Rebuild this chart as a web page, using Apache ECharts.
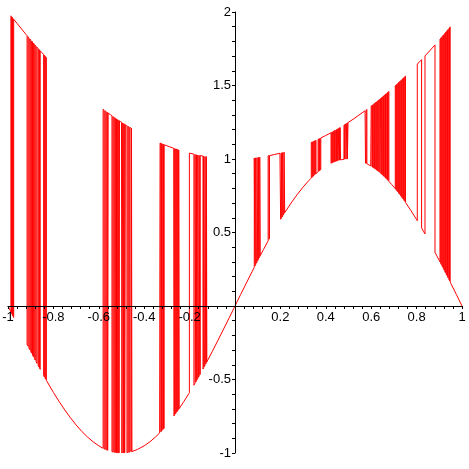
<!DOCTYPE html>
<html>
<head>
<meta charset="utf-8">
<script src="https://cdn.jsdelivr.net/npm/echarts@6/dist/echarts.min.js"></script>
<style>html,body{margin:0;padding:0;background:#fff}#c{width:469px;height:469px}</style>
</head>
<body>
<div id="c"></div>
<script>
// Tick values
const xTicks = [-1, -0.8, -0.6, -0.4, -0.2, 0.2, 0.4, 0.6, 0.8, 1];
const yTicks = [-1, -0.5, 0.5, 1, 1.5, 2];

// Curve points [x, y], left to right
const segLeftCluster = [
  [-1,0],[-0.99,-0.031],
  [-0.987,-0.041],[-0.987,1.974],[-0.985,1.970],[-0.985,-0.047],[-0.983,-0.053],[-0.983,1.966],
  [-0.981,1.962],[-0.981,-0.060],[-0.979,-0.066],[-0.979,1.958],[-0.977,1.955],[-0.977,-0.072],
  [-0.975,-0.078],[-0.975,1.951],
  [-0.96,1.922],[-0.94,1.884],[-0.92,1.846],
  [-0.916,1.839],[-0.916,-0.261],[-0.912,-0.273],[-0.912,1.832],[-0.908,1.824],[-0.908,-0.285],
  [-0.904,-0.297],[-0.904,1.817],[-0.900,1.810],[-0.900,-0.309],[-0.896,-0.321],[-0.896,1.803],
  [-0.892,1.796],[-0.892,-0.333],[-0.888,-0.345],[-0.888,1.789],[-0.884,1.781],[-0.884,-0.356],
  [-0.880,-0.368],[-0.880,1.774],[-0.876,1.767],[-0.876,-0.380],[-0.872,-0.391],[-0.872,1.760],
  [-0.867,1.752],[-0.867,-0.406],[-0.864,-0.414],[-0.864,1.746],[-0.861,1.741],[-0.861,-0.423],
  [-0.858,-0.431],[-0.858,1.736],
  [-0.85,1.723],
  [-0.843,1.711],[-0.843,-0.474],[-0.840,-0.482],[-0.840,1.706],[-0.837,1.701],[-0.837,-0.490],
  [-0.834,-0.498],[-0.834,1.696],[-0.831,1.691],[-0.831,-0.506]
];
const segLowerLeft = [
  [-0.80,-0.588],[-0.775,-0.649],[-0.75,-0.707],[-0.725,-0.760],[-0.70,-0.809],[-0.675,-0.853],
  [-0.65,-0.891],[-0.625,-0.924],[-0.60,-0.951],[-0.585,-0.965]
];
const segMidCluster = [
  [-0.581,-0.968],[-0.581,1.338],[-0.577,1.333],[-0.577,-0.971],[-0.573,-0.974],[-0.573,1.328],
  [-0.569,1.324],[-0.569,-0.977],[-0.565,-0.979],[-0.565,1.319],[-0.561,1.315],[-0.561,-0.982],
  [-0.559,-0.983],[-0.559,1.312],
  [-0.55,1.303],
  [-0.542,1.294],[-0.542,-0.991],[-0.538,-0.993],[-0.538,1.289],[-0.534,1.285],[-0.534,-0.994],
  [-0.530,-0.996],[-0.530,1.281],[-0.526,1.277],[-0.526,-0.997],[-0.522,-0.998],[-0.522,1.272],
  [-0.518,1.268],[-0.518,-0.998],[-0.514,-0.999],[-0.514,1.264],[-0.511,1.261],[-0.511,-0.999],
  [-0.509,-1.000],[-0.509,1.259],
  [-0.50,1.25],
  [-0.498,1.248],[-0.498,-1.000],[-0.495,-1.000],[-0.495,1.245],[-0.492,1.242],[-0.492,-1.000],
  [-0.489,-0.999],[-0.489,1.239],[-0.486,1.236],[-0.486,-0.999],[-0.483,-0.999],[-0.483,1.233],
  [-0.479,1.229],
  [-0.476,1.227],[-0.476,-0.997],[-0.472,-0.996],[-0.472,1.223],[-0.468,1.219],[-0.468,-0.995],
  [-0.464,-0.994],[-0.464,1.215],
  [-0.458,1.210],[-0.458,-0.991],[-0.456,-0.990],[-0.456,1.208],[-0.454,1.206],[-0.454,-0.990]
];
const segLowerMid = [
  [-0.43,-0.976],[-0.40,-0.951],[-0.375,-0.924],[-0.35,-0.891],[-0.332,-0.864]
];
const segRightOfMid = [
  [-0.330,-0.861],[-0.330,1.109],[-0.327,1.107],[-0.327,-0.856],[-0.324,-0.851],[-0.324,1.105],
  [-0.321,1.103],[-0.321,-0.846],[-0.318,-0.841],[-0.318,1.101],[-0.315,1.099],[-0.315,-0.836],
  [-0.312,-0.831],[-0.312,1.097],
  [-0.29,1.084],[-0.27,1.073],
  [-0.269,1.072],[-0.269,-0.748],[-0.266,-0.742],[-0.266,1.071],[-0.263,1.069],[-0.263,-0.735],
  [-0.260,-0.729],[-0.260,1.068],[-0.257,1.066],[-0.257,-0.722],[-0.254,-0.716],[-0.254,1.065],
  [-0.251,1.063],[-0.251,-0.709],[-0.248,-0.703],[-0.248,1.062],[-0.246,1.061],[-0.246,-0.698],
  [-0.225,-0.649],[-0.203,-0.595],
  [-0.201,-0.590],[-0.201,1.040],
  [-0.181,1.033],[-0.181,-0.539],[-0.178,-0.531],
  [-0.176,-0.525],[-0.176,1.031],[-0.173,1.030],[-0.173,-0.517],[-0.170,-0.509],[-0.170,1.029],
  [-0.167,1.028],[-0.167,-0.501],[-0.164,-0.493],[-0.164,1.027],[-0.161,1.026],[-0.161,-0.485],
  [-0.158,-0.476],[-0.158,1.025],[-0.155,1.024],[-0.155,-0.468],[-0.153,-0.462],[-0.153,1.023],
  [-0.145,1.021],
  [-0.141,1.020],[-0.141,-0.429],[-0.138,-0.420],[-0.138,1.019],[-0.135,1.018],[-0.135,-0.412],
  [-0.132,-0.403],[-0.132,1.017],[-0.129,1.017],[-0.129,-0.394],[-0.126,-0.386],[-0.126,1.016],
  [-0.124,1.015],[-0.124,-0.380]
];
const segLowerCentre = [
  [-0.10,-0.309],[-0.075,-0.233],[-0.05,-0.156],[-0.025,-0.079],[0,0],[0.025,0.079],[0.05,0.156],
  [0.075,0.233],[0.083,0.258]
];
const segRightLow = [
  [0.085,0.264],[0.085,1.007],[0.088,1.008],[0.088,0.273],[0.091,0.282],[0.091,1.008],
  [0.094,1.009],[0.094,0.291],[0.097,0.300],[0.097,1.009],[0.100,1.010],[0.100,0.309],
  [0.103,0.318],[0.103,1.011],[0.106,1.011],[0.106,0.327],[0.109,0.336],[0.109,1.012],
  [0.111,1.012],[0.111,0.342],
  [0.125,0.383],[0.146,0.443],[0.146,1.021],[0.150,1.023],[0.150,0.454],[0.152,0.460],[0.152,1.023],
  [0.175,1.031],[0.198,1.039],
  [0.201,1.040],[0.201,0.590],[0.204,0.598],[0.204,1.042],[0.207,1.043],[0.207,0.605],
  [0.210,0.613],[0.210,1.044],[0.213,1.045],[0.213,0.620],[0.216,0.628],[0.216,1.047],
  [0.219,1.048],[0.219,0.635],
  [0.25,0.707],[0.275,0.760],[0.30,0.809],[0.325,0.853],[0.333,0.866]
];
const segRightMid = [
  [0.336,0.870],[0.336,1.113],[0.339,1.115],[0.339,0.875],[0.342,0.879],[0.342,1.117],
  [0.345,1.119],[0.345,0.884],[0.348,0.888],[0.348,1.121],[0.351,1.123],[0.351,0.893],
  [0.354,0.897],[0.354,1.125],[0.357,1.127],[0.357,0.901],
  [0.362,0.907],
  [0.366,0.913],[0.366,1.134],[0.369,1.136],[0.369,0.917],[0.372,0.920],[0.372,1.138],
  [0.375,1.141],[0.375,0.924],[0.378,0.928],[0.378,1.143],
  [0.40,1.16],[0.42,1.176],
  [0.423,1.179],[0.423,0.971],[0.426,0.973],[0.426,1.181],[0.429,1.184],[0.429,0.975],
  [0.432,0.977],[0.432,1.187],[0.435,1.189],[0.435,0.979],[0.438,0.981],[0.438,1.192],
  [0.441,1.194],[0.441,0.983],[0.444,0.985],[0.444,1.197],[0.447,1.200],[0.447,0.986],
  [0.451,0.988],[0.451,1.203],[0.454,1.206],[0.454,0.990],[0.457,0.991],[0.457,1.209],
  [0.460,1.212],[0.460,0.992],[0.463,0.993],[0.463,1.214],[0.465,1.216],[0.465,0.994],
  [0.472,0.996],
  [0.480,0.998],[0.480,1.230],[0.483,1.233],[0.483,0.999],[0.486,0.999],[0.486,1.236],
  [0.489,1.239],[0.489,0.999],[0.492,1.000],[0.492,1.242],[0.495,1.245],[0.495,1.000],
  [0.498,1.000],[0.498,1.248],
  [0.52,1.270],[0.54,1.292],[0.56,1.314],[0.573,1.328],
  [0.575,1.331],[0.575,0.972],[0.578,0.970],[0.578,1.334],[0.581,1.338],[0.581,0.968],
  [0.59,0.960],[0.598,0.953]
];
const segRightHigh = [
  [0.600,0.951],[0.600,1.360],[0.603,1.364],[0.603,0.948],[0.606,0.945],[0.606,1.367],
  [0.609,1.371],[0.609,0.942],[0.612,0.939],[0.612,1.375],[0.615,1.378],[0.615,0.935],
  [0.618,0.932],[0.618,1.382],[0.621,1.386],[0.621,0.929],[0.624,0.925],[0.624,1.389],
  [0.627,1.393],[0.627,0.922],[0.630,0.918],[0.630,1.397],[0.633,1.401],[0.633,0.914],
  [0.636,0.910],[0.636,1.404],
  [0.641,1.411],
  [0.642,1.412],[0.642,0.902],[0.645,0.898],[0.645,1.416],[0.648,1.420],[0.648,0.894],
  [0.651,0.890],[0.651,1.424],[0.654,1.428],[0.654,0.885],[0.657,0.881],[0.657,1.432],
  [0.660,1.436],[0.660,0.876],[0.663,0.872],[0.663,1.440],[0.666,1.444],[0.666,0.867],
  [0.669,0.862],[0.669,1.448],[0.672,1.452],[0.672,0.858],[0.675,0.853],[0.675,1.456],
  [0.678,1.460],[0.678,0.848],
  [0.69,0.827],[0.703,0.804],
  [0.706,0.798],[0.706,1.498],[0.709,1.503],[0.709,0.792],[0.712,0.786],[0.712,1.507],
  [0.715,1.511],[0.715,0.780],[0.718,0.775],[0.718,1.516],[0.721,1.520],[0.721,0.768],
  [0.724,0.762],[0.724,1.524],[0.727,1.529],[0.727,0.756],[0.730,0.750],[0.730,1.533],
  [0.733,1.537],[0.733,0.744],[0.736,0.737],[0.736,1.542],[0.739,1.546],[0.739,0.731],
  [0.742,0.725],[0.742,1.551],[0.745,1.555],[0.745,0.718],[0.748,0.712],[0.748,1.560],
  [0.751,1.564],[0.751,0.705],
  [0.775,0.649],[0.80,0.588],[0.803,0.580],[0.803,1.645],
  [0.822,1.676],[0.822,0.531],[0.83,0.509],[0.837,0.490],[0.837,1.701],
  [0.86,1.740],[0.881,1.776],[0.881,0.365],[0.89,0.339],[0.90,0.309],
  [0.903,0.300],[0.903,1.815],[0.906,1.821],[0.906,0.291],[0.909,0.282],[0.909,1.826],
  [0.912,1.832],[0.912,0.273],[0.915,0.264],[0.915,1.837],[0.918,1.843],[0.918,0.255],
  [0.921,0.246],[0.921,1.848],[0.924,1.854],[0.924,0.237],[0.927,0.227],[0.927,1.859],
  [0.930,1.865],[0.930,0.218],[0.933,0.209],[0.933,1.871],[0.936,1.876],[0.936,0.200],
  [0.939,0.191],[0.939,1.882],[0.942,1.887],[0.942,0.181],[0.945,0.172],[0.945,1.893],
  [0.948,1.899],[0.948,0.163],
  [0.951,0.153],[0.975,0.079],[1,0]
];

const curve = [].concat(segLeftCluster, segLowerLeft, segMidCluster, segLowerMid, segRightOfMid,
  segLowerCentre, segRightLow, segRightMid, segRightHigh);

function fmt(v, ticks) {
  for (const t of ticks) if (Math.abs(v - t) < 1e-6) return String(t);
  return '';
}

const W = 469, H = 469;
const G = {left: 8, right: 7, top: 12, bottom: 16};
const X_MIN = -1, X_MAX = 1, Y_MIN = -1, Y_MAX = 2;
const gw = W - G.left - G.right, gh = H - G.top - G.bottom;
// shift the axes so they cross at the origin
const xAxisOffset = -gh * (0 - Y_MIN) / (Y_MAX - Y_MIN);
const yAxisOffset = -gw * (0 - X_MIN) / (X_MAX - X_MIN);

const chart = echarts.init(document.getElementById('c'), null, {renderer: 'canvas'});
const axisCommon = {
  z: 5,
  axisLine: {onZero: false, lineStyle: {color: '#000', width: 1}},
  axisTick: {show: true, length: 3, lineStyle: {color: '#000'}},
  minorTick: {show: true, splitNumber: 5, length: 3, lineStyle: {color: '#000'}},
  splitLine: {show: false},
  minorSplitLine: {show: false}
};
chart.setOption({
  animation: false,
  backgroundColor: '#fff',
  grid: Object.assign({containLabel: false, outerBoundsMode: 'none'}, G),
  xAxis: Object.assign({
    type: 'value', min: X_MIN, max: X_MAX, interval: 0.2, position: 'bottom', offset: xAxisOffset,
    axisLabel: {color: '#000', fontSize: 13, fontFamily: 'Liberation Sans, Arial, sans-serif', margin: 5,
      formatter: v => fmt(v, xTicks)}
  }, axisCommon),
  yAxis: Object.assign({
    type: 'value', min: Y_MIN, max: Y_MAX, interval: 0.5, position: 'left', offset: yAxisOffset,
    axisLabel: {color: '#000', fontSize: 13, fontFamily: 'Liberation Sans, Arial, sans-serif', margin: 4,
      formatter: v => fmt(v, yTicks)}
  }, axisCommon),
  series: [{
    type: 'line',
    z: 2,
    data: curve,
    showSymbol: false,
    symbol: 'none',
    lineStyle: {color: '#ff0000', width: 1},
    sampling: null,
    clip: false
  }]
});

// keep every short segment of the polyline (ECharts skips segments under 2px by default).
// A threshold of 0 would leave the old value in the path, so use a tiny positive one.
const zr = chart.getZr();
zr.storage.getDisplayList(true).forEach(function (el) {
  if (el.shape && el.shape.points && el.segmentIgnoreThreshold) {
    el.segmentIgnoreThreshold = 0.001;
    if (el.path) { el.path._ux = 0; el.path._uy = 0; }
    if (el.dirtyShape) el.dirtyShape();
    el.dirty();
  }
});
zr.refreshImmediately();
</script>
</body>
</html>
